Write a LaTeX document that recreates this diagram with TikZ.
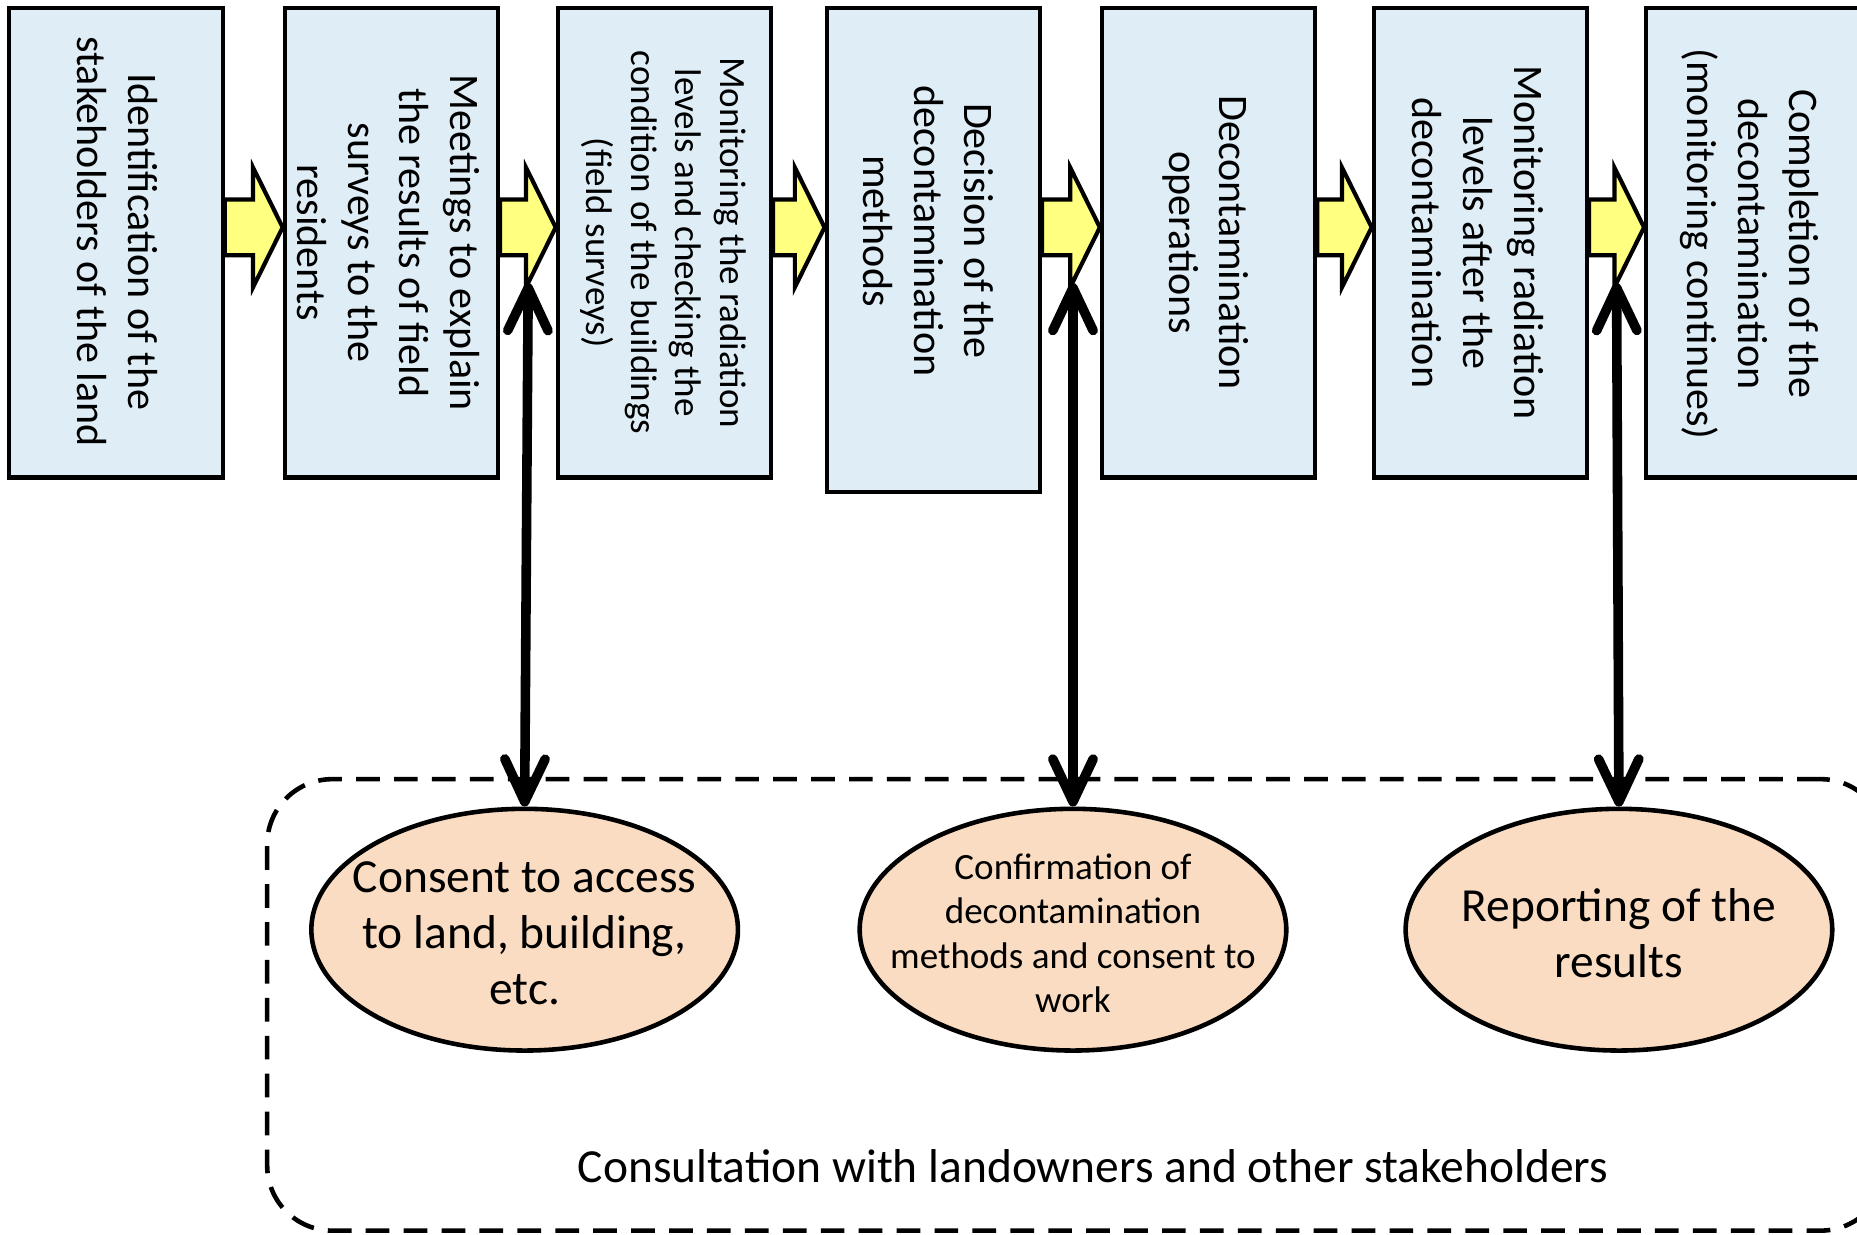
\documentclass[tikz,border=0pt]{standalone}
\usepackage{fontspec}
\setmainfont{Carlito}
\usetikzlibrary{arrows.meta,calc,shapes.geometric}
\definecolor{boxblue}{HTML}{DFEEF6}
\definecolor{arrowyellow}{HTML}{FFFF80}
\definecolor{peach}{HTML}{FADCC2}
\newcommand{\blockarrow}[2]{%
  \draw[yarrow] ($(#1.east |- ay)+(0,-23.5)$) -- ($(#2.west |- ay)+(-25,-23.5)$)
    -- ($(#2.west |- ay)+(-25,-50.5)$) -- (#2.west |- ay)
    -- ($(#2.west |- ay)+(-25,50.5)$) -- ($(#2.west |- ay)+(-25,23.5)$)
    -- ($(#1.east |- ay)+(0,23.5)$) -- cycle;}
\begin{document}
\begin{tikzpicture}[x=0.01cm,y=-0.01cm,
  stage/.style={draw=black, line width=1pt, fill=boxblue, inner sep=0pt,
    minimum width=1.80cm, minimum height=3.96cm},
  stagetext/.style={rotate=-90, align=center, inner sep=0pt,
    font=\fontsize{10.1}{12.2}\selectfont},
  smalltext/.style={font=\fontsize{8.9}{10.7}\selectfont},
  yarrow/.style={draw=black, line width=1pt, fill=arrowyellow, line join=miter},
  outcome/.style={ellipse, draw=black, line width=1.1pt, fill=peach,
    minimum width=3.60cm, minimum height=2.04cm, inner sep=0pt},
  outtext/.style={align=center, inner sep=0pt, font=\fontsize{11.4}{13.4}\selectfont},
  link/.style={line width=2.3pt,
    {Straight Barb[round,length=3.6mm,width=3.4mm]}-{Straight Barb[round,length=3.6mm,width=3.4mm]}},
  group/.style={draw=black, line width=1.1pt, dash pattern=on 0.2cm off 0.12cm,
    rounded corners=0.55cm, inner sep=0pt, minimum width=13.66cm, minimum height=3.81cm}
]
\useasboundingbox (0,0) rectangle (1568,1042);
\clip (0,0) rectangle (1568,1042);

% consultation group
\node[group] (grp) at (909,848.5) {};
\node[outtext] (lbl) at (923,985)
  {Consultation with landowners and other stakeholders};

% outcomes
\node[outcome] (e1) at (443,785) {};
\node[outcome] (e2) at (906,785) {};
\node[outcome] (e3) at (1367,785) {};
\node[outtext] (o1) at (443,788) {Consent to access\\to land, building,\\etc.};
\node[outtext, font=\fontsize{8.9}{10.7}\selectfont] (o2) at (906,788)
  {Confirmation of\\decontamination\\methods and consent to\\work};
\node[outtext] (o3) at (1367,788) {Reporting of the\\results};

% stages
\node[stage] (b1) at (98,205) {};
\node[stage] (b2) at (330.5,205) {};
\node[stage] (b3) at (561,205) {};
\node[stage, minimum height=4.08cm] (b4) at (788,211) {};
\node[stage] (b5) at (1020.5,205) {};
\node[stage] (b6) at (1250,205) {};
\node[stage] (b7) at (1480,205) {};

\node[stagetext] (t1) at (99,204) {Identification of the\\stakeholders of the land};
\node[stagetext] (t2) at (328,205) {Meetings to explain\\the results of field\\surveys to the\\residents};
\node[stagetext, smalltext] (t3) at (560,205) {Monitoring the radiation\\levels and checking the\\condition of the buildings\\(field surveys)};
\node[stagetext] (t4) at (784,195) {Decision of the\\decontamination\\methods};
\node[stagetext] (t5) at (1018,205) {Decontamination\\operations};
\node[stagetext] (t6) at (1248,205) {Monitoring radiation\\levels after the\\decontamination};
\node[stagetext] (t7) at (1477,206) {Completion of the\\decontamination\\(monitoring continues)};

% block arrows
\coordinate (ay) at (0,192);
\blockarrow{b1}{b2}
\blockarrow{b2}{b3}
\blockarrow{b3}{b4}
\blockarrow{b4}{b5}
\blockarrow{b5}{b6}
\blockarrow{b6}{b7}

% links to consultation
\coordinate (l1) at (446,239);
\coordinate (l2) at (906,239);
\coordinate (l3) at (1365,239);
\draw[link] (l1) -- (e1.north);
\draw[link] (l2) -- (e2.north);
\draw[link] (l3) -- (e3.north);
\end{tikzpicture}
\end{document}
